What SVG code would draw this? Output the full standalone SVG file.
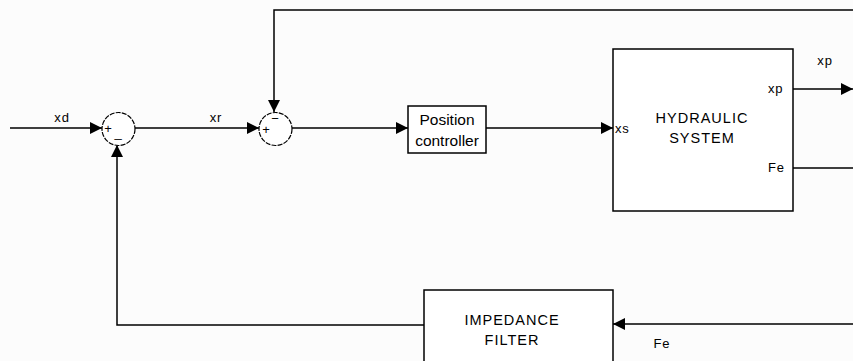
<svg xmlns="http://www.w3.org/2000/svg" width="853" height="361" viewBox="0 0 853 361">
<defs>
<marker id="ah" markerWidth="12" markerHeight="12" refX="12" refY="6" orient="auto" markerUnits="userSpaceOnUse">
<path d="M0,0 L12,6 L0,12 Z" fill="#000"/>
</marker>
<style>
.ln{fill:none;stroke:#000;stroke-width:1.5}
.bx{fill:#fff;stroke:#000;stroke-width:1.5}
.sum{fill:#fff;stroke:#000;stroke-width:1.2;stroke-dasharray:5 1.2}
text{font-family:"Liberation Sans",Arial,sans-serif;font-size:13px;fill:#000;letter-spacing:0.8px}
.c{text-anchor:middle}
.big{font-size:15.5px;letter-spacing:0}
.cap{font-size:14.5px;letter-spacing:1px}
.sg{font-size:13px;letter-spacing:0}
</style>
</defs>
<rect width="853" height="361" fill="#fcfcfc"/>
<g id="connectors">
<line class="ln" x1="10" y1="128" x2="102" y2="128" marker-end="url(#ah)"/>
<line class="ln" x1="135" y1="128" x2="259" y2="128" marker-end="url(#ah)"/>
<polyline class="ln" points="853,10 274,10 274,112" marker-end="url(#ah)"/>
<line class="ln" x1="292" y1="128" x2="408" y2="128" marker-end="url(#ah)"/>
<line class="ln" x1="486" y1="128" x2="613" y2="128" marker-end="url(#ah)"/>
<line class="ln" x1="793" y1="89" x2="853" y2="89" marker-end="url(#ah)"/>
<line class="ln" x1="793" y1="168" x2="853" y2="168"/>
<line class="ln" x1="853" y1="324" x2="613" y2="324" marker-end="url(#ah)"/>
<polyline class="ln" points="424,325 117,325 117,145" marker-end="url(#ah)"/>
</g>
<g id="labels">
<text x="62" y="122" class="c">xd</text>
<text x="216" y="122" class="c">xr</text>
<text x="825" y="65" class="c">xp</text>
<text x="662" y="348" class="c">Fe</text>
</g>
<g id="sum1">
<circle class="sum" cx="118.5" cy="129" r="16.5"/>
<text x="108" y="133" class="c sg">+</text>
<text x="118" y="137" class="c sg">_</text>
</g>
<g id="sum2">
<circle class="sum" cx="275.5" cy="129" r="16.5"/>
<text x="266" y="134" class="c sg">+</text>
<text x="275" y="123" class="c sg">−</text>
</g>
<g id="position-controller">
<rect class="bx" x="408" y="106" width="78" height="47"/>
<text x="447" y="125" class="c big">Position</text>
<text x="447" y="146" class="c big">controller</text>
</g>
<g id="hydraulic-system">
<rect class="bx" x="613" y="49" width="180" height="162"/>
<text x="702" y="123" class="c cap">HYDRAULIC</text>
<text x="702" y="143" class="c cap">SYSTEM</text>
<text x="615" y="133">xs</text>
<text x="768" y="93">xp</text>
<text x="768" y="172">Fe</text>
</g>
<g id="impedance-filter">
<rect class="bx" x="424" y="290" width="189" height="80"/>
<text x="512" y="325" class="c cap">IMPEDANCE</text>
<text x="512" y="345" class="c cap">FILTER</text>
</g>
</svg>
